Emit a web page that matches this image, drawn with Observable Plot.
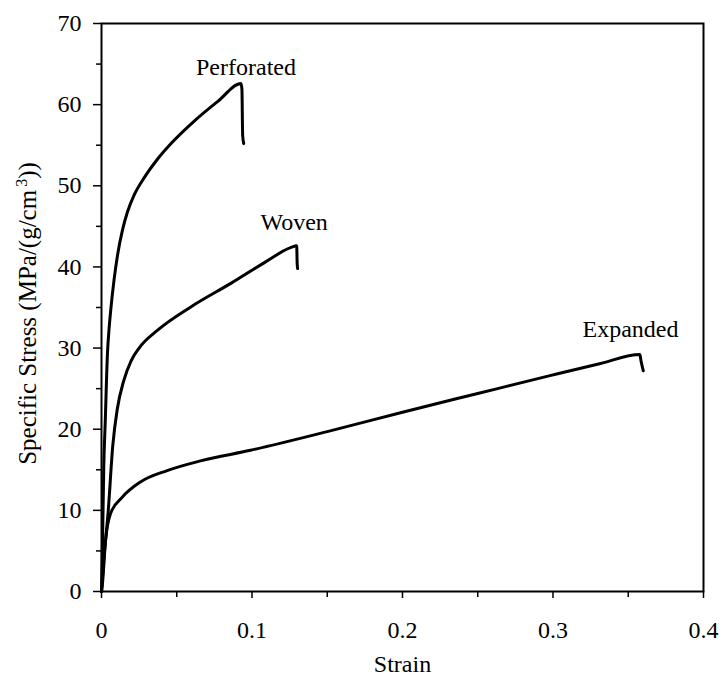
<!DOCTYPE html>
<html>
<head>
<meta charset="utf-8">
<script src="https://cdn.jsdelivr.net/npm/d3@7"></script>
<script src="https://cdn.jsdelivr.net/npm/@observablehq/plot@0.6"></script>
<style>
  html, body { margin: 0; padding: 0; background: #fff; }
  #chart svg { display: block; }
</style>
</head>
<body>
<div id="chart"></div>
<script>
// Series: strain (x) and specific stress (y)
const perforatedStrain = [0, 0.0005, 0.0015, 0.0025, 0.004, 0.005, 0.0062, 0.0084, 0.0107, 0.014, 0.0173, 0.0218, 0.0284, 0.0373, 0.0462, 0.0618, 0.0773, 0.0927, 0.0933, 0.0938, 0.0945];
const perforatedStress = [0, 4, 15.3, 21, 29.5, 32.3, 34.8, 38.5, 41.5, 44.6, 46.8, 48.9, 51.0, 53.3, 55.2, 58.0, 60.4, 62.6, 61.9, 56.2, 55.2];

const wovenStrain = [0, 0.0015, 0.0045, 0.0075, 0.0105, 0.0148, 0.0196, 0.025, 0.0373, 0.0596, 0.0862, 0.108, 0.126, 0.1297, 0.13, 0.1303];
const wovenStress = [0, 3.8, 10, 18, 22.5, 26, 28.4, 30, 32.2, 35.1, 38, 40.5, 42.4, 42.6, 40.5, 39.8];

const expandedStrain = [0, 0.0005, 0.0027, 0.006, 0.0137, 0.0259, 0.0436, 0.0658, 0.099, 0.15, 0.2, 0.25, 0.298, 0.3316, 0.3577, 0.3585, 0.36];
const expandedStress = [0, 0.7, 6.3, 9.6, 11.6, 13.5, 14.9, 16.1, 17.4, 19.7, 22.1, 24.4, 26.6, 28.1, 29.2, 28.4, 27.2];

const seriesNames = ["Perforated", "Woven", "Expanded"];
const labelStrain = [0.096, 0.128, 0.3515];
const labelStress = [64.6, 45.5, 32.3];

const xMajorTicks = [0, 0.1, 0.2, 0.3, 0.4];
const xMinorTicks = [0.05, 0.15, 0.25, 0.35];
const yMajorTicks = [0, 10, 20, 30, 40, 50, 60, 70];
const yMinorTicks = [5, 15, 25, 35, 45, 55, 65];

const xTitle = "Strain";
const yTitleMain = "Specific Stress (MPa/(g/cm";
const yTitleSup = "3";
const yTitleEnd = "))";
const yTitle = yTitleMain + yTitleSup + yTitleEnd;

const toRows = (name, xs, ys) => xs.map((x, i) => ({series: name, strain: x, stress: ys[i]}));
const rows = [
  ...toRows("Perforated", perforatedStrain, perforatedStress),
  ...toRows("Woven", wovenStrain, wovenStress),
  ...toRows("Expanded", expandedStrain, expandedStress)
];
const labels = seriesNames.map((n, i) => ({name: n, strain: labelStrain[i], stress: labelStress[i]}));

const font = "'Liberation Serif', 'Times New Roman', serif";

const chart = Plot.plot({
  width: 722,
  height: 679,
  marginLeft: 101,
  marginRight: 19,
  marginTop: 23,
  marginBottom: 88,
  style: {fontFamily: font, fontSize: "24px", color: "#000", background: "#fff"},
  x: {domain: [0, 0.4]},
  y: {domain: [0, 70]},
  marks: [
    Plot.axisX(xMinorTicks, {tickSize: 6, text: null, strokeWidth: 1.5, label: null}),
    Plot.axisX(xMajorTicks, {tickSize: 7, tickPadding: 22, tickFormat: d => String(d), strokeWidth: 1.5, fontSize: 24, label: null}),
    Plot.axisY(yMinorTicks, {tickSize: 5, text: null, strokeWidth: 1.5, label: null}),
    Plot.axisY(yMajorTicks, {tickSize: 8, tickPadding: 12, tickFormat: d => String(d), strokeWidth: 1.5, fontSize: 24, label: null}),
    Plot.frame({stroke: "#000", strokeWidth: 2}),
    Plot.line(rows, {x: "strain", y: "stress", z: "series", stroke: "#000", strokeWidth: 3, curve: "monotone-x", strokeLinejoin: "round", strokeLinecap: "round"}),
    Plot.text(labels, {x: "strain", y: "stress", text: "name", fontSize: 24, fill: "#000"}),
    Plot.text([xTitle], {frameAnchor: "bottom", dy: 80, fontSize: 24, fill: "#000"}),
    Plot.text([yTitle], {frameAnchor: "left", textAnchor: "middle", dx: -74, dy: 6, rotate: -90, fontSize: 25, fill: "#000"})
  ]
});

// Render the "3" of cm³ as a raised superscript
chart.querySelectorAll("text").forEach(el => {
  if (el.textContent === yTitle) {
    el.textContent = "";
    const ns = "http://www.w3.org/2000/svg";
    el.appendChild(document.createTextNode(yTitleMain));
    const sup = document.createElementNS(ns, "tspan");
    sup.setAttribute("dy", "-9");
    sup.setAttribute("dx", "3");
    sup.setAttribute("font-size", "16");
    sup.textContent = yTitleSup;
    el.appendChild(sup);
    const end = document.createElementNS(ns, "tspan");
    end.setAttribute("dy", "9");
    end.textContent = yTitleEnd;
    el.appendChild(end);
  }
});

document.getElementById("chart").appendChild(chart);
</script>
</body>
</html>
